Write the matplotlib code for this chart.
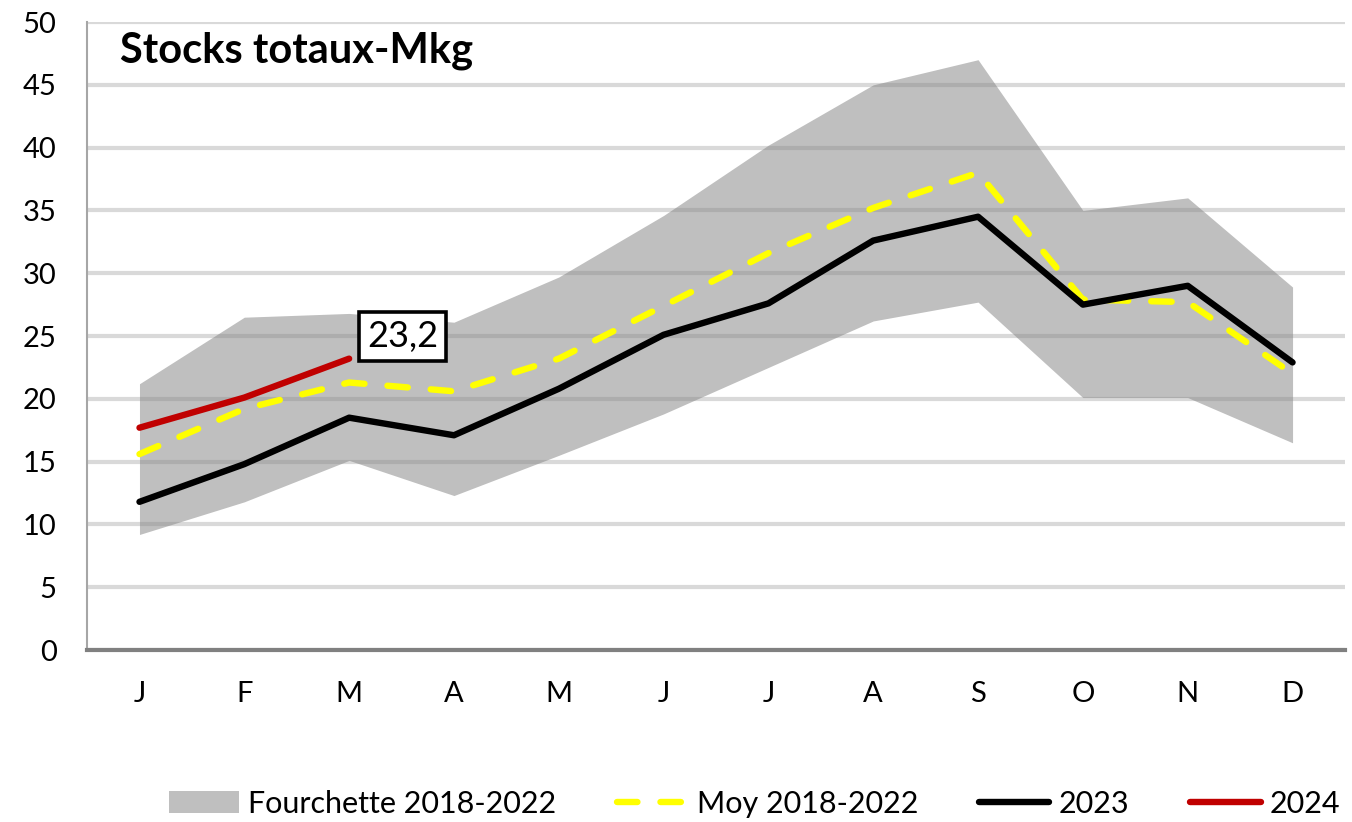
import matplotlib
matplotlib.use("Agg")
import matplotlib.pyplot as plt
import numpy as np

# Data
mois = ["J", "F", "M", "A", "M", "J", "J", "A", "S", "O", "N", "D"]
fourchette_max = [21.2, 26.5, 26.8, 26.1, 29.7, 34.6, 40.2, 45.0, 47.0, 35.0, 36.0, 28.9]
fourchette_min = [9.2, 11.8, 15.1, 12.3, 15.5, 18.8, 22.5, 26.2, 27.7, 20.1, 20.1, 16.5]
moy_2018_2022 = [15.6, 19.2, 21.3, 20.6, 23.2, 27.4, 31.6, 35.2, 38.0, 27.9, 27.7, 22.0]
stocks_2023 = [11.8, 14.8, 18.5, 17.1, 20.8, 25.1, 27.6, 32.6, 34.5, 27.5, 29.0, 22.9]
stocks_2024 = [17.7, 20.1, 23.2]

plt.rcParams['font.family'] = ['Lato', 'DejaVu Sans']

fig = plt.figure(figsize=(13.52, 8.22), dpi=100)
ax = fig.add_axes([0.0644, 0.2092, 0.9304, 0.764])

x = np.arange(len(mois))

# Fourchette (band), semi-transparent so gridlines show through
ax.fill_between(x, fourchette_min, fourchette_max, color="#868686", alpha=0.53,
                linewidth=0, label="Fourchette 2018-2022", zorder=2)
ax.plot(x, moy_2018_2022, color="#ffff00", linewidth=4.6, dashes=(3.2, 3.6),
        dash_capstyle="round", label="Moy 2018-2022", zorder=3)
ax.plot(x, stocks_2023, color="black", linewidth=4.6, solid_capstyle="round",
        label="2023", zorder=4)
ax.plot(np.arange(len(stocks_2024)), stocks_2024, color="#c00000", linewidth=4.6,
        solid_capstyle="round", label="2024", zorder=5)

# Label on last 2024 point
last = len(stocks_2024) - 1
ax.annotate(f"{stocks_2024[last]:.1f}".replace(".", ","),
            xy=(last, stocks_2024[last]), xytext=(13, 16), textcoords="offset points",
            fontsize=26, va="center", ha="left", zorder=6,
            bbox=dict(boxstyle="square,pad=0.22", fc="white", ec="black", lw=2.6))

ax.set_xlim(-0.5, len(mois) - 0.5)
ax.set_ylim(0, 50)
ax.set_yticks(np.arange(0, 51, 5))
ax.set_xticks(x)
ax.set_xticklabels(mois)
ax.tick_params(axis="both", length=0, labelsize=21)
ax.tick_params(axis="x", pad=22)
ax.tick_params(axis="y", pad=22)

ax.yaxis.grid(True, color="#d9d9d9", linewidth=3, zorder=1)
ax.set_axisbelow(True)

for s in ["top", "right"]:
    ax.spines[s].set_visible(False)
ax.spines["left"].set_color("#a6a6a6")
ax.spines["left"].set_linewidth(1.5)
ax.spines["bottom"].set_color("#808080")
ax.spines["bottom"].set_linewidth(3)

ax.text(0.026, 0.955, "Stocks totaux-Mkg", transform=ax.transAxes, fontsize=30,
        fontweight="bold", va="center", ha="left")

fig.legend(loc="lower center", bbox_to_anchor=(0.558, -0.028), ncol=4, frameon=False,
           fontsize=22, handlelength=2.3, columnspacing=2.0, handletextpad=0.3)

fig.savefig("out.png", dpi=100)
